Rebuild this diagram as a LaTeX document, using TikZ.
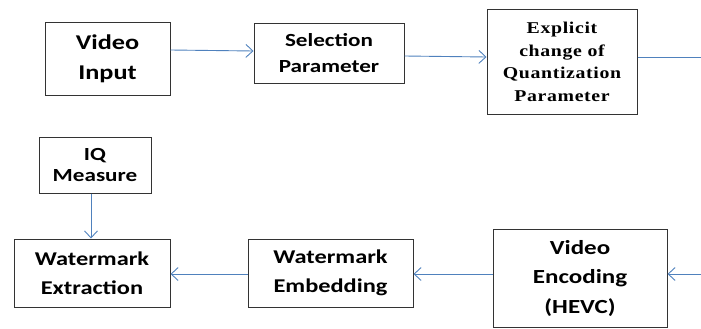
\documentclass[tikz,border=0pt]{standalone}
\usepackage{fontspec}
\setmainfont{Carlito}[FakeStretch=1.25]
\newfontfamily\timesf{Liberation Serif}[FakeStretch=1.2,LetterSpace=4]
\usetikzlibrary{arrows.meta}
\definecolor{linkblue}{RGB}{79,129,189}
\tikzset{
  box/.style={draw=black!80, line width=1pt, fill=white, align=center, inner sep=0pt, font=\bfseries},
  arr/.style={draw=linkblue, line width=0.9pt, -{Straight Barb[length=7pt,width=13pt]}},
  lnk/.style={draw=linkblue, line width=0.9pt}
}
\begin{document}
\begin{tikzpicture}[x=1pt,y=-1pt]
\useasboundingbox (0,0) rectangle (701,329);
\node[box, minimum width=125pt, minimum height=72pt, font=\bfseries\fontsize{21}{30}\selectfont] (vin) at (107.5,59) {Video\\Input};
\node[box, minimum width=150pt, minimum height=59pt, font=\bfseries\fontsize{18.5}{26}\selectfont] (sel) at (329,53.5) {Selection\\Parameter};
\node[box, minimum width=150pt, minimum height=104pt, font=\timesf\bfseries\fontsize{16.5}{22.5}\selectfont] (exp) at (562,62) {Explicit\\change of\\Quantization\\Parameter};
\node[box, minimum width=112pt, minimum height=56pt, font=\bfseries\fontsize{18.5}{21}\selectfont] (iq) at (95,165) {IQ\\Measure};
\node[box, minimum width=156pt, minimum height=68pt, font=\bfseries\fontsize{19.5}{29}\selectfont] (ext) at (92,273) {Watermark\\Extraction};
\node[box, minimum width=165pt, minimum height=68pt, font=\bfseries\fontsize{19.5}{29}\selectfont] (emb) at (330.5,273) {Watermark\\Embedding};
\node[box, minimum width=174pt, minimum height=98pt, font=\bfseries\fontsize{20}{29.5}\selectfont] (enc) at (580,278) {Video\\Encoding\\(HEVC)};
\coordinate (outR) at (701,57);
\coordinate (inR) at (701,274);
\draw[arr] ([yshift=9pt]vin.east) -- ([yshift=2.5pt]sel.west);
\draw[arr] ([yshift=-2.5pt]sel.east) -- ([yshift=5pt]exp.west);
\draw[lnk] ([yshift=5pt]exp.east) -- (outR);
\draw[arr] (inR) -- ([yshift=4pt]enc.east);
\draw[arr] ([yshift=4pt]enc.west) -- ([yshift=-1pt]emb.east);
\draw[arr] ([yshift=-1pt]emb.west) -- ([yshift=-1pt]ext.east);
\draw[arr] ([xshift=-4pt]iq.south) -- ([xshift=-1pt]ext.north);
\end{tikzpicture}
\end{document}
